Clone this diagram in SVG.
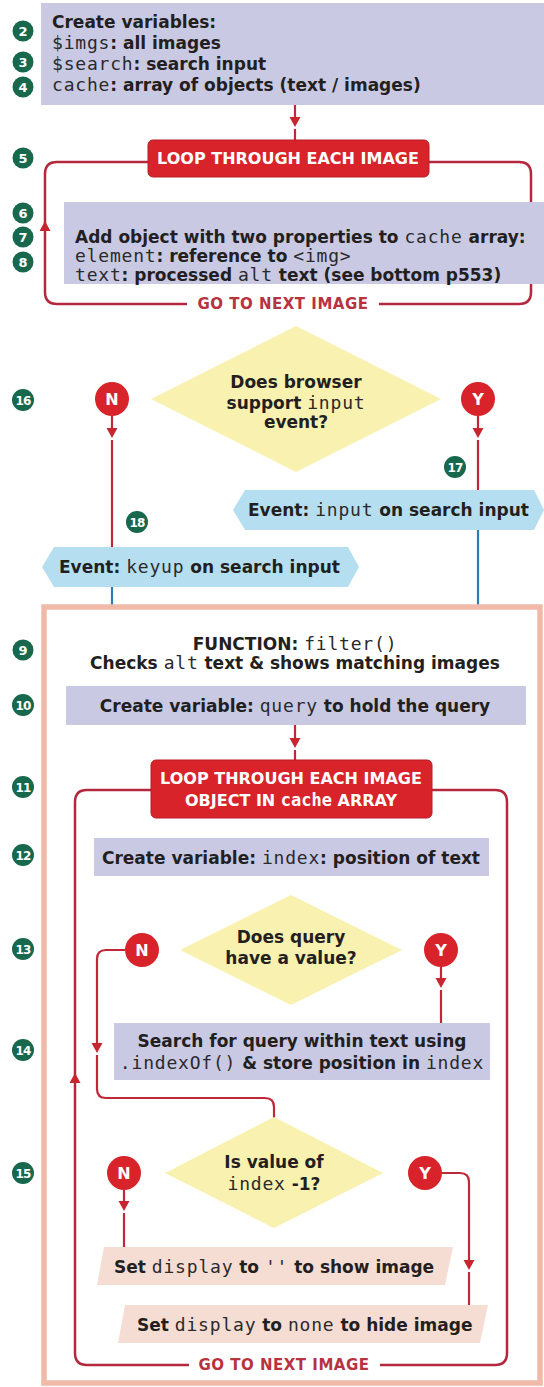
<svg xmlns="http://www.w3.org/2000/svg" width="544" height="1387" viewBox="0 0 544 1387">
<defs>
<style>
.t{font-family:"DejaVu Sans","Liberation Sans",sans-serif;font-weight:bold;font-size:17px;fill:#231f20}
.c{text-anchor:middle}
.m{font-family:"DejaVu Sans Mono","Liberation Mono",monospace;font-weight:normal;font-size:18px;letter-spacing:0.8px;fill:#2a2a2a}
.lav{fill:#c9c9e4}
.loopbox{fill:#d8232b;stroke:#b81d26;stroke-width:1}
.lt{font-family:"DejaVu Sans","Liberation Sans",sans-serif;font-weight:bold;font-size:16px;fill:#ffffff;text-anchor:middle}
.lm{font-family:"DejaVu Sans Mono","Liberation Mono",monospace;font-weight:bold;font-size:17px}
.go{font-family:"DejaVu Sans","Liberation Sans",sans-serif;font-weight:bold;font-size:15px;letter-spacing:0.5px;fill:#b8323f;text-anchor:middle}
.frame{fill:none;stroke:#b3283d;stroke-width:2.5}
.red{fill:none;stroke:#c0283a;stroke-width:2.2}
.blue{fill:none;stroke:#2d7db3;stroke-width:2.2}
.ah{fill:#c8262f}
.dia{fill:#f8f1b0}
.ev{fill:#b5dff1}
.pk{fill:#f6ddd3}
.yn{fill:#d8232a}
.ynt{font-family:"DejaVu Sans","Liberation Sans",sans-serif;font-weight:bold;font-size:16px;fill:#ffffff;text-anchor:middle}
.st{fill:#17684c}
.stt{font-family:"DejaVu Sans","Liberation Sans",sans-serif;font-weight:bold;font-size:13px;fill:#ffffff;text-anchor:middle}
.st2{font-size:12px;letter-spacing:-0.9px}
</style>
<path id="ahd" d="M-5.5,-10 L5.5,-10 L0,0 Z"/>
</defs>
<rect width="544" height="1387" fill="#ffffff"/>

<!-- connectors -->
<g id="connectors">
  <path class="red" d="M295,105 V117 M295,129 V140"/>
  <use href="#ahd" class="ah" transform="translate(295,127)"/>
  <path class="frame" d="M148,162 H57 Q45,162 45,174 V292 Q45,304 57,304 H187"/>
  <path class="frame" d="M379,304 H519 Q531,304 531,292 V174 Q531,162 519,162 H429"/>
  <use href="#ahd" class="ah" transform="translate(45,221) rotate(180)"/>
  <path class="red" d="M112,416 V428 M112,440 V547"/>
  <use href="#ahd" class="ah" transform="translate(112,438)"/>
  <path class="red" d="M478,416 V428 M478,440 V490"/>
  <use href="#ahd" class="ah" transform="translate(478,438)"/>
  <path class="blue" d="M112,587 V605"/>
  <path class="blue" d="M478,530 V605"/>
  <path class="red" d="M295,725 V738 M295,750 V760"/>
  <use href="#ahd" class="ah" transform="translate(295,748)"/>
  <path class="frame" d="M151,790 H87 Q75,790 75,802 V1353 Q75,1365 87,1365 H189"/>
  <path class="frame" d="M380,1365 H495 Q507,1365 507,1353 V802 Q507,790 495,790 H432"/>
  <use href="#ahd" class="ah" transform="translate(75,1073) rotate(180)"/>
  <path class="red" d="M125,950 H106 Q97,950 97,959 V1043 M97,1055 V1089 Q97,1098 106,1098 H265 Q274,1098 274,1107 V1118"/>
  <use href="#ahd" class="ah" transform="translate(97,1053)"/>
  <path class="red" d="M441,967 V978 M441,990 V1023"/>
  <use href="#ahd" class="ah" transform="translate(441,988)"/>
  <path class="red" d="M124,1190 V1201 M124,1213 V1247"/>
  <use href="#ahd" class="ah" transform="translate(124,1211)"/>
  <path class="red" d="M442,1173 H460 Q469,1173 469,1182 V1260 M469,1272 V1305"/>
  <use href="#ahd" class="ah" transform="translate(469,1270)"/>
</g>

<g id="n-create-vars">
  <rect class="lav" x="41" y="3" width="503" height="102"/>
  <text class="t" x="52" y="28">Create variables:</text>
  <text class="t" x="52" y="49"><tspan class="m">$imgs</tspan>: all images</text>
  <text class="t" x="52" y="70"><tspan class="m">$search</tspan>: search input</text>
  <text class="t" x="52" y="91"><tspan class="m">cache</tspan>: array of objects (text / images)</text>
</g>

<g id="n-loop1">
  <rect class="loopbox" x="148" y="140" width="281" height="37" rx="5"/>
  <text class="lt" x="288" y="164">LOOP THROUGH EACH IMAGE</text>
</g>
<g id="n-goto1">
  <text class="go" x="283" y="309">GO TO NEXT IMAGE</text>
</g>

<g id="n-add-object">
  <rect class="lav" x="64" y="202" width="480" height="82"/>
  <text class="t" x="75" y="243">Add object with two properties to <tspan class="m">cache</tspan> array:</text>
  <text class="t" x="75" y="262"><tspan class="m">element</tspan>: reference to <tspan class="m">&lt;img&gt;</tspan></text>
  <text class="t" x="75" y="281"><tspan class="m">text</tspan>: processed <tspan class="m">alt</tspan> text (see bottom p553)</text>
</g>

<g id="n-decision1">
  <polygon class="dia" points="296,326 441,399 296,472 151,399"/>
  <text class="t c" x="296" y="388">Does browser</text>
  <text class="t c" x="296" y="409">support <tspan class="m">input</tspan></text>
  <text class="t c" x="296" y="428">event?</text>
</g>
<g id="n-no1">
  <circle class="yn" cx="112" cy="399" r="17"/>
  <text class="ynt" x="112" y="405">N</text>
</g>
<g id="n-yes1">
  <circle class="yn" cx="478" cy="399" r="17"/>
  <text class="ynt" x="478" y="405">Y</text>
</g>

<g id="n-event-input">
  <polygon class="ev" points="233,510 245,490 534,490 544,510 534,530 245,530"/>
  <text class="t" x="248" y="516">Event: <tspan class="m">input</tspan> on search input</text>
</g>
<g id="n-event-keyup">
  <polygon class="ev" points="42,567 54,547 348,547 359,567 348,587 54,587"/>
  <text class="t" x="59" y="573">Event: <tspan class="m">keyup</tspan> on search input</text>
</g>

<g id="n-function">
  <rect x="44" y="607" width="496" height="776" fill="none" stroke="#f1b9a8" stroke-width="5.5"/>
  <text class="t c" x="295" y="650">FUNCTION: <tspan class="m">filter()</tspan></text>
  <text class="t c" x="295" y="669">Checks <tspan class="m">alt</tspan> text &amp; shows matching images</text>
</g>

<g id="n-query">
  <rect class="lav" x="66" y="686" width="460" height="39"/>
  <text class="t c" x="295" y="712">Create variable: <tspan class="m">query</tspan> to hold the query</text>
</g>

<g id="n-loop2">
  <rect class="loopbox" x="151" y="760" width="281" height="58" rx="5"/>
  <text class="lt" x="291" y="784">LOOP THROUGH EACH IMAGE</text>
  <text class="lt" x="291" y="806">OBJECT IN <tspan class="lm">cache</tspan> ARRAY</text>
</g>

<g id="n-index">
  <rect class="lav" x="94" y="838" width="395" height="38"/>
  <text class="t c" x="291" y="864">Create variable: <tspan class="m">index</tspan>: position of text</text>
</g>

<g id="n-decision2">
  <polygon class="dia" points="291,895 402,950 291,1005 180,950"/>
  <text class="t c" x="291" y="943">Does query</text>
  <text class="t c" x="291" y="964">have a value?</text>
</g>
<g id="n-no2">
  <circle class="yn" cx="142" cy="950" r="17"/>
  <text class="ynt" x="142" y="956">N</text>
</g>
<g id="n-yes2">
  <circle class="yn" cx="441" cy="950" r="17"/>
  <text class="ynt" x="441" y="956">Y</text>
</g>

<g id="n-search">
  <rect class="lav" x="114" y="1023" width="376" height="57"/>
  <text class="t c" x="302" y="1047">Search for query within text using</text>
  <text class="t c" x="302" y="1069"><tspan class="m">.indexOf()</tspan> &amp; store position in <tspan class="m">index</tspan></text>
</g>

<g id="n-decision3">
  <polygon class="dia" points="274,1117 383,1173 274,1228 165,1173"/>
  <text class="t c" x="274" y="1168">Is value of</text>
  <text class="t c" x="274" y="1190"><tspan class="m">index</tspan> -1?</text>
</g>
<g id="n-no3">
  <circle class="yn" cx="124" cy="1173" r="17"/>
  <text class="ynt" x="124" y="1179">N</text>
</g>
<g id="n-yes3">
  <circle class="yn" cx="425" cy="1173" r="17"/>
  <text class="ynt" x="425" y="1179">Y</text>
</g>

<g id="n-show">
  <polygon class="pk" points="104,1247 453,1247 445,1285 97,1285"/>
  <text class="t" x="114" y="1273">Set <tspan class="m">display</tspan> to <tspan class="m">''</tspan> to show image</text>
</g>
<g id="n-hide">
  <polygon class="pk" points="125,1305 488,1305 480,1343 118,1343"/>
  <text class="t" x="137" y="1331">Set <tspan class="m">display</tspan> to <tspan class="m">none</tspan> to hide image</text>
</g>
<g id="n-goto2">
  <text class="go" x="284" y="1370">GO TO NEXT IMAGE</text>
</g>

<g id="steps">
  <g id="s2"><circle class="st" cx="23" cy="31" r="10.5"/><text class="stt" x="23" y="35.5">2</text></g>
  <g id="s3"><circle class="st" cx="23" cy="62" r="10.5"/><text class="stt" x="23" y="66.5">3</text></g>
  <g id="s4"><circle class="st" cx="23" cy="87" r="10.5"/><text class="stt" x="23" y="91.5">4</text></g>
  <g id="s5"><circle class="st" cx="23" cy="158" r="10.5"/><text class="stt" x="23" y="162.5">5</text></g>
  <g id="s6"><circle class="st" cx="23" cy="213" r="10.5"/><text class="stt" x="23" y="217.5">6</text></g>
  <g id="s7"><circle class="st" cx="23" cy="237" r="10.5"/><text class="stt" x="23" y="241.5">7</text></g>
  <g id="s8"><circle class="st" cx="23" cy="262" r="10.5"/><text class="stt" x="23" y="266.5">8</text></g>
  <g id="s9"><circle class="st" cx="23" cy="650" r="10.5"/><text class="stt" x="23" y="654.5">9</text></g>
  <g id="s10"><circle class="st" cx="23" cy="705" r="11"/><text class="stt st2" x="23" y="709.5">10</text></g>
  <g id="s11"><circle class="st" cx="23" cy="787" r="11"/><text class="stt st2" x="23" y="791.5">11</text></g>
  <g id="s12"><circle class="st" cx="23" cy="855" r="11"/><text class="stt st2" x="23" y="859.5">12</text></g>
  <g id="s13"><circle class="st" cx="23" cy="949" r="11"/><text class="stt st2" x="23" y="953.5">13</text></g>
  <g id="s14"><circle class="st" cx="23" cy="1050" r="11"/><text class="stt st2" x="23" y="1054.5">14</text></g>
  <g id="s15"><circle class="st" cx="23" cy="1173" r="11"/><text class="stt st2" x="23" y="1177.5">15</text></g>
  <g id="s16"><circle class="st" cx="23" cy="400" r="11"/><text class="stt st2" x="23" y="404.5">16</text></g>
  <g id="s17"><circle class="st" cx="455" cy="467" r="11"/><text class="stt st2" x="455" y="471.5">17</text></g>
  <g id="s18"><circle class="st" cx="137" cy="522" r="11"/><text class="stt st2" x="137" y="526.5">18</text></g>
</g>
</svg>
